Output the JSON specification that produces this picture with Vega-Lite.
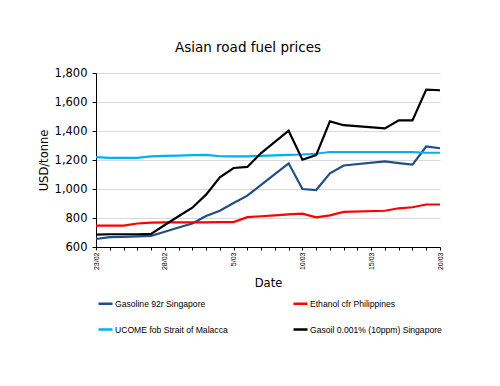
{
  "$schema": "https://vega.github.io/schema/vega-lite/v6.json",
  "width": 344,
  "height": 174,
  "autosize": {"type": "none"},
  "padding": {"left": 96, "top": 73, "right": 60, "bottom": 139},
  "background": "white",
  "title": {"text": "Asian road fuel prices", "font": "DejaVu Sans", "fontSize": 13.5, "fontWeight": "normal", "color": "black", "anchor": "middle", "dx": -20, "offset": 13},
  "config": {"view": {"stroke": null}},
  "data": {"values": [
    {"date": "2022-02-23", "series": "Gasoline 92r Singapore", "price": 655},
    {"date": "2022-02-24", "series": "Gasoline 92r Singapore", "price": 668},
    {"date": "2022-02-25", "series": "Gasoline 92r Singapore", "price": 670},
    {"date": "2022-02-26", "series": "Gasoline 92r Singapore", "price": 673},
    {"date": "2022-02-27", "series": "Gasoline 92r Singapore", "price": 677},
    {"date": "2022-02-28", "series": "Gasoline 92r Singapore", "price": 705},
    {"date": "2022-03-01", "series": "Gasoline 92r Singapore", "price": 734},
    {"date": "2022-03-02", "series": "Gasoline 92r Singapore", "price": 762},
    {"date": "2022-03-03", "series": "Gasoline 92r Singapore", "price": 814},
    {"date": "2022-03-04", "series": "Gasoline 92r Singapore", "price": 850},
    {"date": "2022-03-05", "series": "Gasoline 92r Singapore", "price": 903},
    {"date": "2022-03-06", "series": "Gasoline 92r Singapore", "price": 954},
    {"date": "2022-03-07", "series": "Gasoline 92r Singapore", "price": 1029},
    {"date": "2022-03-08", "series": "Gasoline 92r Singapore", "price": 1103},
    {"date": "2022-03-09", "series": "Gasoline 92r Singapore", "price": 1177},
    {"date": "2022-03-10", "series": "Gasoline 92r Singapore", "price": 1000},
    {"date": "2022-03-11", "series": "Gasoline 92r Singapore", "price": 993},
    {"date": "2022-03-12", "series": "Gasoline 92r Singapore", "price": 1108},
    {"date": "2022-03-13", "series": "Gasoline 92r Singapore", "price": 1162},
    {"date": "2022-03-16", "series": "Gasoline 92r Singapore", "price": 1190},
    {"date": "2022-03-17", "series": "Gasoline 92r Singapore", "price": 1179},
    {"date": "2022-03-18", "series": "Gasoline 92r Singapore", "price": 1168},
    {"date": "2022-03-19", "series": "Gasoline 92r Singapore", "price": 1293},
    {"date": "2022-03-20", "series": "Gasoline 92r Singapore", "price": 1281},
    {"date": "2022-02-23", "series": "Ethanol cfr Philippines", "price": 748},
    {"date": "2022-02-24", "series": "Ethanol cfr Philippines", "price": 748},
    {"date": "2022-02-25", "series": "Ethanol cfr Philippines", "price": 748},
    {"date": "2022-02-26", "series": "Ethanol cfr Philippines", "price": 762},
    {"date": "2022-02-27", "series": "Ethanol cfr Philippines", "price": 768},
    {"date": "2022-02-28", "series": "Ethanol cfr Philippines", "price": 770},
    {"date": "2022-03-01", "series": "Ethanol cfr Philippines", "price": 770},
    {"date": "2022-03-02", "series": "Ethanol cfr Philippines", "price": 770},
    {"date": "2022-03-03", "series": "Ethanol cfr Philippines", "price": 770},
    {"date": "2022-03-04", "series": "Ethanol cfr Philippines", "price": 771},
    {"date": "2022-03-05", "series": "Ethanol cfr Philippines", "price": 772},
    {"date": "2022-03-06", "series": "Ethanol cfr Philippines", "price": 806},
    {"date": "2022-03-07", "series": "Ethanol cfr Philippines", "price": 812},
    {"date": "2022-03-08", "series": "Ethanol cfr Philippines", "price": 818},
    {"date": "2022-03-09", "series": "Ethanol cfr Philippines", "price": 825},
    {"date": "2022-03-10", "series": "Ethanol cfr Philippines", "price": 830},
    {"date": "2022-03-11", "series": "Ethanol cfr Philippines", "price": 804},
    {"date": "2022-03-12", "series": "Ethanol cfr Philippines", "price": 818},
    {"date": "2022-03-13", "series": "Ethanol cfr Philippines", "price": 842},
    {"date": "2022-03-16", "series": "Ethanol cfr Philippines", "price": 850},
    {"date": "2022-03-17", "series": "Ethanol cfr Philippines", "price": 867},
    {"date": "2022-03-18", "series": "Ethanol cfr Philippines", "price": 874},
    {"date": "2022-03-19", "series": "Ethanol cfr Philippines", "price": 893},
    {"date": "2022-03-20", "series": "Ethanol cfr Philippines", "price": 893},
    {"date": "2022-02-23", "series": "UCOME fob Strait of Malacca", "price": 1220},
    {"date": "2022-02-24", "series": "UCOME fob Strait of Malacca", "price": 1215},
    {"date": "2022-02-25", "series": "UCOME fob Strait of Malacca", "price": 1215},
    {"date": "2022-02-26", "series": "UCOME fob Strait of Malacca", "price": 1215},
    {"date": "2022-02-27", "series": "UCOME fob Strait of Malacca", "price": 1225},
    {"date": "2022-02-28", "series": "UCOME fob Strait of Malacca", "price": 1228},
    {"date": "2022-03-01", "series": "UCOME fob Strait of Malacca", "price": 1230},
    {"date": "2022-03-02", "series": "UCOME fob Strait of Malacca", "price": 1233},
    {"date": "2022-03-03", "series": "UCOME fob Strait of Malacca", "price": 1235},
    {"date": "2022-03-04", "series": "UCOME fob Strait of Malacca", "price": 1226},
    {"date": "2022-03-05", "series": "UCOME fob Strait of Malacca", "price": 1225},
    {"date": "2022-03-06", "series": "UCOME fob Strait of Malacca", "price": 1225},
    {"date": "2022-03-07", "series": "UCOME fob Strait of Malacca", "price": 1228},
    {"date": "2022-03-08", "series": "UCOME fob Strait of Malacca", "price": 1232},
    {"date": "2022-03-09", "series": "UCOME fob Strait of Malacca", "price": 1236},
    {"date": "2022-03-10", "series": "UCOME fob Strait of Malacca", "price": 1238},
    {"date": "2022-03-11", "series": "UCOME fob Strait of Malacca", "price": 1243},
    {"date": "2022-03-12", "series": "UCOME fob Strait of Malacca", "price": 1255},
    {"date": "2022-03-13", "series": "UCOME fob Strait of Malacca", "price": 1255},
    {"date": "2022-03-16", "series": "UCOME fob Strait of Malacca", "price": 1255},
    {"date": "2022-03-17", "series": "UCOME fob Strait of Malacca", "price": 1255},
    {"date": "2022-03-18", "series": "UCOME fob Strait of Malacca", "price": 1254},
    {"date": "2022-03-19", "series": "UCOME fob Strait of Malacca", "price": 1250},
    {"date": "2022-03-20", "series": "UCOME fob Strait of Malacca", "price": 1250},
    {"date": "2022-02-23", "series": "Gasoil 0.001% (10ppm) Singapore", "price": 685},
    {"date": "2022-02-24", "series": "Gasoil 0.001% (10ppm) Singapore", "price": 688},
    {"date": "2022-02-25", "series": "Gasoil 0.001% (10ppm) Singapore", "price": 688},
    {"date": "2022-02-26", "series": "Gasoil 0.001% (10ppm) Singapore", "price": 688},
    {"date": "2022-02-27", "series": "Gasoil 0.001% (10ppm) Singapore", "price": 690},
    {"date": "2022-02-28", "series": "Gasoil 0.001% (10ppm) Singapore", "price": 752},
    {"date": "2022-03-01", "series": "Gasoil 0.001% (10ppm) Singapore", "price": 812},
    {"date": "2022-03-02", "series": "Gasoil 0.001% (10ppm) Singapore", "price": 871},
    {"date": "2022-03-03", "series": "Gasoil 0.001% (10ppm) Singapore", "price": 961},
    {"date": "2022-03-04", "series": "Gasoil 0.001% (10ppm) Singapore", "price": 1080},
    {"date": "2022-03-05", "series": "Gasoil 0.001% (10ppm) Singapore", "price": 1145},
    {"date": "2022-03-06", "series": "Gasoil 0.001% (10ppm) Singapore", "price": 1152},
    {"date": "2022-03-07", "series": "Gasoil 0.001% (10ppm) Singapore", "price": 1248},
    {"date": "2022-03-08", "series": "Gasoil 0.001% (10ppm) Singapore", "price": 1325},
    {"date": "2022-03-09", "series": "Gasoil 0.001% (10ppm) Singapore", "price": 1402},
    {"date": "2022-03-10", "series": "Gasoil 0.001% (10ppm) Singapore", "price": 1202},
    {"date": "2022-03-11", "series": "Gasoil 0.001% (10ppm) Singapore", "price": 1234},
    {"date": "2022-03-12", "series": "Gasoil 0.001% (10ppm) Singapore", "price": 1466},
    {"date": "2022-03-13", "series": "Gasoil 0.001% (10ppm) Singapore", "price": 1440},
    {"date": "2022-03-16", "series": "Gasoil 0.001% (10ppm) Singapore", "price": 1418},
    {"date": "2022-03-17", "series": "Gasoil 0.001% (10ppm) Singapore", "price": 1473},
    {"date": "2022-03-18", "series": "Gasoil 0.001% (10ppm) Singapore", "price": 1473},
    {"date": "2022-03-19", "series": "Gasoil 0.001% (10ppm) Singapore", "price": 1685},
    {"date": "2022-03-20", "series": "Gasoil 0.001% (10ppm) Singapore", "price": 1681}
  ]},
  "mark": {"type": "line", "strokeWidth": 2.2},
  "encoding": {
    "x": {
      "field": "date", "type": "temporal",
      "scale": {"type": "utc", "domain": [{"year": 2022, "month": 2, "date": 23, "utc": true}, {"year": 2022, "month": 3, "date": 20, "utc": true}], "nice": false},
      "axis": {
        "title": "Date", "titleFont": "DejaVu Sans", "titleFontSize": 11.5, "titleFontWeight": "normal", "titleColor": "black", "titlePadding": 8,
        "tickCount": {"interval": "day", "step": 1},
        "labelExpr": "round((datum.value - 1645574400000) / 86400000) % 5 == 0 ? utcFormat(datum.value, '%-d/%m') : ''",
        "labelAngle": 270, "labelFont": "Liberation Sans", "labelFontSize": 7, "labelColor": "black", "labelPadding": 2,
        "labelOverlap": false, "labelFlush": false,
        "grid": false, "domainColor": "black", "domainWidth": 1, "tickColor": "black", "tickSize": 3
      }
    },
    "y": {
      "field": "price", "type": "quantitative",
      "scale": {"domain": [600, 1800], "nice": false, "zero": false},
      "axis": {
        "title": "USD/tonne", "titleFont": "DejaVu Sans", "titleFontSize": 11.5, "titleFontWeight": "normal", "titleColor": "black", "titlePadding": 5,
        "values": [600, 800, 1000, 1200, 1400, 1600, 1800], "format": ",.0f",
        "labelFont": "DejaVu Sans", "labelFontSize": 11.5, "labelColor": "black", "labelPadding": 5,
        "gridColor": "#d9d9d9", "gridWidth": 1, "domainColor": "black", "domainWidth": 1, "tickColor": "black", "tickSize": 4
      }
    },
    "color": {
      "field": "series", "type": "nominal",
      "scale": {"domain": ["Gasoline 92r Singapore", "UCOME fob Strait of Malacca", "Ethanol cfr Philippines", "Gasoil 0.001% (10ppm) Singapore"], "range": ["#1f4e89", "#00b0f0", "#ff0000", "#000000"]},
      "legend": {
        "title": null, "orient": "none", "legendX": 1, "legendY": 222, "columns": 2, "columnPadding": 60, "rowPadding": 12, "padding": 0,
        "symbolType": "stroke", "symbolSize": 196, "symbolStrokeWidth": 2.5, "labelOffset": 1,
        "labelFont": "Liberation Sans", "labelFontSize": 8.6, "labelColor": "black", "labelLimit": 300
      }
    }
  }
}
